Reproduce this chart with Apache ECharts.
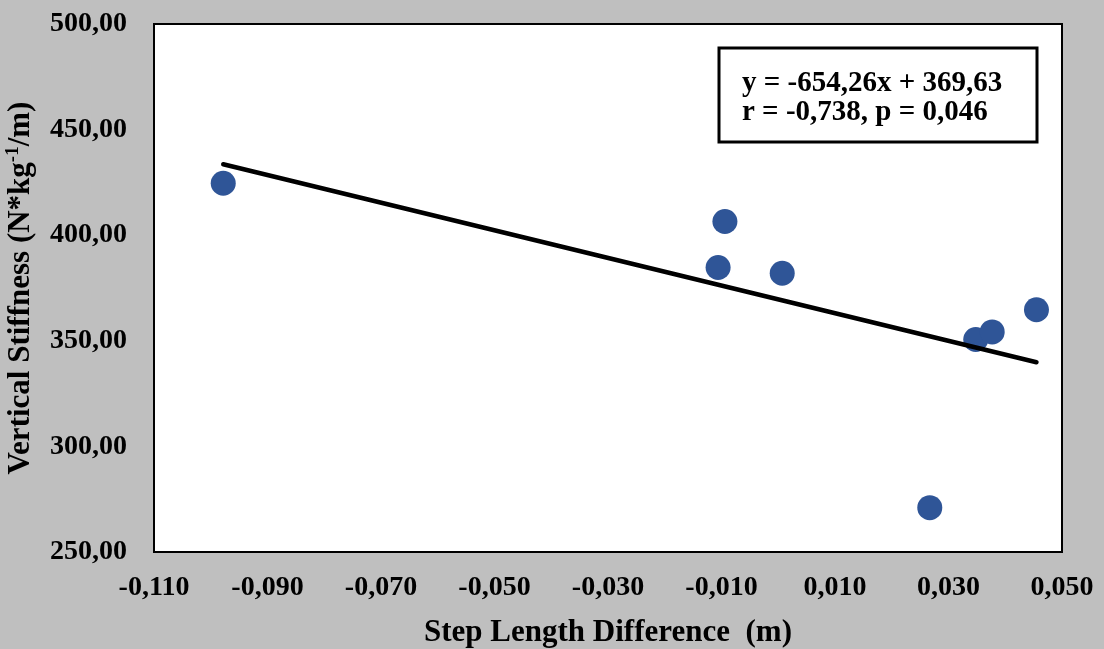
<!DOCTYPE html>
<html>
<head>
<meta charset="utf-8">
<script src="https://cdn.jsdelivr.net/npm/echarts@6/dist/echarts.min.js"></script>
<style>
html,body{margin:0;padding:0;background:#BFBFBF;}
#chart{width:1104px;height:649px;}
</style>
</head>
<body>
<div id="chart"></div>
<script>
// Data
var stepLengthDiff = [-0.0978, -0.0094, -0.0106, 0.0007, 0.0267, 0.0348, 0.0377, 0.0455];
var verticalStiffness = [424.6, 406.5, 384.7, 382.0, 271.0, 350.6, 354.2, 364.7];
var slope = -654.26;
var intercept = 369.63;
var equationText = ['y = -654,26x + 369,63', 'r = -0,738, p = 0,046'];
var xTicks = { min: -0.110, max: 0.050, interval: 0.020 };
var yTicks = { min: 250, max: 500, interval: 50 };

var points = stepLengthDiff.map(function (x, i) { return [x, verticalStiffness[i]]; });
var xMin = Math.min.apply(null, stepLengthDiff);
var xMax = Math.max.apply(null, stepLengthDiff);
var trend = [[xMin, slope * xMin + intercept], [xMax, slope * xMax + intercept]];

var font = '"Liberation Serif", "Times New Roman", serif';
function fmt(v, d) { return v.toFixed(d).replace('.', ','); }

var chart = echarts.init(document.getElementById('chart'));
chart.setOption({
  backgroundColor: '#BFBFBF',
  animation: false,
  grid: {
    left: 154, right: 42, top: 24, bottom: 97,
    containLabel: false, outerBoundsMode: 'none',
    show: true, backgroundColor: '#ffffff', borderColor: '#000000', borderWidth: 2
  },
  xAxis: {
    type: 'value',
    min: xTicks.min, max: xTicks.max, interval: xTicks.interval,
    axisLine: { show: false },
    axisTick: { show: false },
    splitLine: { show: false },
    axisLabel: {
      formatter: function (v) { return fmt(v, 3); },
      fontFamily: font, fontWeight: 'bold', fontSize: 28, color: '#000', margin: 22
    },
    name: 'Step Length Difference  (m)',
    nameLocation: 'middle', nameGap: 65,
    nameTextStyle: { fontFamily: font, fontWeight: 'bold', fontSize: 31, color: '#000' }
  },
  yAxis: {
    type: 'value',
    min: yTicks.min, max: yTicks.max, interval: yTicks.interval,
    axisLine: { show: false },
    axisTick: { show: false },
    splitLine: { show: false },
    axisLabel: {
      formatter: function (v) { return fmt(v, 2); },
      fontFamily: font, fontWeight: 'bold', fontSize: 28, color: '#000', margin: 27
    },
    name: '{a|Vertical Stiffness (N*kg}{s|-1}{a|/m)}',
    nameLocation: 'middle', nameGap: 116,
    nameTextStyle: {
      fontFamily: font, fontWeight: 'bold', fontSize: 31, color: '#000',
      rich: {
        a: { fontFamily: font, fontWeight: 'bold', fontSize: 31, color: '#000', lineHeight: 34 },
        s: { fontFamily: font, fontWeight: 'bold', fontSize: 19, color: '#000', verticalAlign: 'top', lineHeight: 34, padding: [0, 0, 14, 0] }
      }
    }
  },
  series: [
    {
      type: 'scatter',
      data: points,
      symbol: 'circle',
      symbolSize: 25,
      itemStyle: { color: '#2F5597', opacity: 1 },
      z: 2
    },
    {
      type: 'line',
      data: trend,
      symbol: 'none',
      lineStyle: { color: '#000', width: 4.5, cap: 'round' },
      z: 3
    }
  ],
  graphic: [
    {
      type: 'rect',
      shape: { x: 719, y: 48, width: 318, height: 94 },
      style: { fill: '#ffffff', stroke: '#000000', lineWidth: 3 },
      z: 10
    },
    {
      type: 'text',
      x: 742, y: 84,
      style: { text: equationText[0], font: 'bold 29px ' + font, fill: '#000', verticalAlign: 'middle' },
      z: 11
    },
    {
      type: 'text',
      x: 742, y: 113,
      style: { text: equationText[1], font: 'bold 29px ' + font, fill: '#000', verticalAlign: 'middle' },
      z: 11
    }
  ]
});
</script>
</body>
</html>
